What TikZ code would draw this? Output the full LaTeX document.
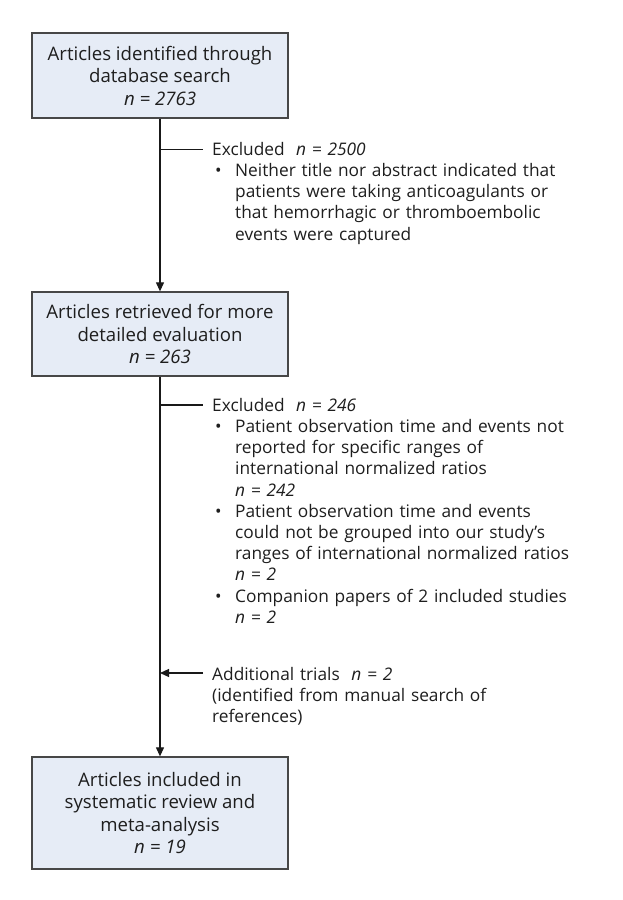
\documentclass[tikz,border=0pt]{standalone}
\usepackage{fontspec}
\setmainfont{Open Sans}
\usetikzlibrary{arrows.meta}
\definecolor{boxfill}{HTML}{E6ECF6}
\definecolor{boxdraw}{HTML}{474747}
\definecolor{txt}{HTML}{1E1E1E}
\newcommand{\bul}{\par\hangindent=23pt\hangafter=1\noindent\makebox[23pt][l]{\hspace{3pt}\textbullet}}
\begin{document}
\begin{tikzpicture}[x=1pt,y=-1pt,
  every node/.style={text=txt},
  mainbox/.style={draw=boxdraw,line width=1.3pt,fill=boxfill,minimum width=256pt,align=center,inner sep=0pt,font=\fontsize{18.6}{22.5}\selectfont},
  sidetext/.style={anchor=north west,align=left,text width=400pt,inner sep=0pt,font=\fontsize{17.3}{21.2}\selectfont},
  conn/.style={line width=1.1pt,draw=black!90},
  arr/.style={conn,-{Triangle[length=9pt,width=8pt]}}]
\useasboundingbox (0,0) rectangle (623,900);
\node[mainbox,minimum height=85pt] (b1) at (160,75.5) {Articles identified through\\database search\\\textit{n = 2763}};
\node[mainbox,minimum height=84pt] (b2) at (160,334) {Articles retrieved for more\\detailed evaluation\\\textit{n = 263}};
\node[mainbox,minimum height=112pt] (b3) at (160,813) {Articles included in\\systematic review and\\meta-analysis\\\textit{n = 19}};
\coordinate (j1) at (160,149.5);
\coordinate (e1) at (203,149.5);
\coordinate (j2) at (160,405);
\coordinate (e2) at (203,405);
\coordinate (j3) at (160,673);
\coordinate (e3) at (203,673);
\node[sidetext] (t1) at (212,142) {Excluded~~\textit{n = 2500}\bul Neither title nor abstract indicated that\newline patients were taking anticoagulants or\newline that hemorrhagic or thromboembolic\newline events were captured\par};
\node[sidetext] (t2) at (212,398) {Excluded~~\textit{n = 246}\bul Patient observation time and events not\newline reported for specific ranges of\newline international normalized ratios\newline \textit{n = 242}\bul Patient observation time and events\newline could not be grouped into our study’s\newline ranges of international normalized ratios\newline \textit{n = 2}\bul Companion papers of 2 included studies\newline \textit{n = 2}\par};
\node[sidetext] (t3) at (212,667) {Additional trials~~\textit{n = 2}\\(identified from manual search of\\references)};
\draw[arr] (b1.south) -- (b2.north);
\draw[arr] (b2.south) -- (b3.north);
\draw[conn] (j1) -- (e1);
\draw[conn] (j2) -- (e2);
\draw[arr] (e3) -- (j3);
\end{tikzpicture}
\end{document}
